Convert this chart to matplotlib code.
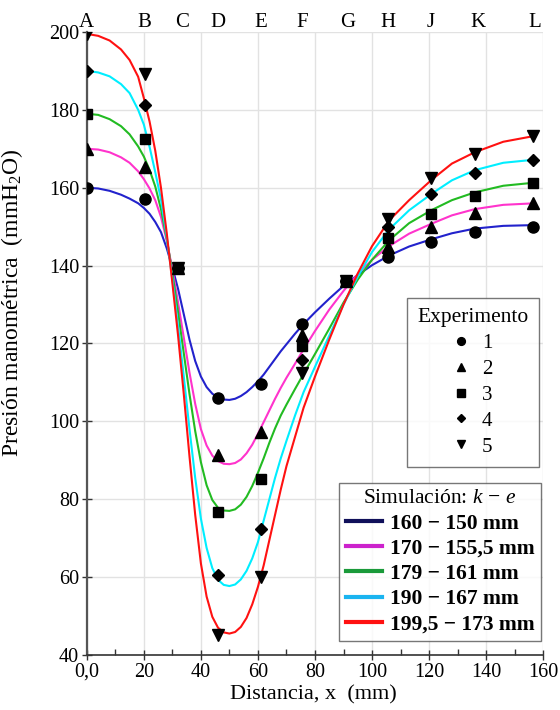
import matplotlib
matplotlib.use("Agg")
import matplotlib.pyplot as plt
from matplotlib.lines import Line2D
from matplotlib.ticker import MultipleLocator

plt.rcParams['font.family'] = ['Liberation Serif', 'DejaVu Serif']
plt.rcParams['mathtext.fontset'] = 'custom'
plt.rcParams['mathtext.rm'] = 'Liberation Serif'
plt.rcParams['mathtext.it'] = 'Liberation Serif:italic'
plt.rcParams['mathtext.bf'] = 'Liberation Serif:bold'

# ---- experimental data ----
x_points = [0, 20.5, 32, 46, 61, 75.5, 91, 105.5, 120.5, 136, 156.5]
station_letters = ['A', 'B', 'C', 'D', 'E', 'F', 'G', 'H', 'J', 'K', 'L']
station_x = [0, 20, 33.5, 46, 61, 75.5, 91.5, 105.5, 120.5, 137, 157]

exp1 = [160, 157, 139.5, 106, 109.5, 125, 136, 142.3, 146, 148.5, 150]
exp2 = [170, 165.3, 139.5, 91.3, 97.3, 122.3, 136, 144.9, 149.8, 153.4, 156]
exp3 = [179, 172.4, 139.5, 76.8, 85.2, 119.4, 136, 147, 153.2, 157.9, 161.3]
exp4 = [190, 181.2, 139.5, 60.6, 72.3, 115.8, 136, 150, 158.4, 163.9, 167.1]
exp5 = [199.5, 189.3, 139.5, 45.1, 60.1, 112.4, 136, 152, 162.4, 168.7, 173.3]
exp_labels = ['1', '2', '3', '4', '5']

# ---- simulated curves ----
sim_x = [0, 4, 8, 12, 15, 18, 20, 22, 24, 26, 28, 30, 32, 34, 36, 38, 40, 42, 44, 46, 48, 50,
         52, 54, 56, 58, 60, 62, 64, 66, 68, 70, 73, 76, 80, 85, 90, 95, 100, 106, 113, 121,
         128, 136, 146, 157]
sim1 = [160, 159.8, 159.2, 158.2, 157.2, 156, 154.8, 153.3, 151.2, 148.6, 144.5, 139.5, 134,
        127.5, 121, 115.5, 111.5, 108.8, 107.1, 106.1, 105.6, 105.5,
        105.8, 106.5, 107.5, 108.8, 110.3, 112, 114, 116, 118, 119.8, 122.5, 125, 128, 131.5,
        134.8, 137.6, 140.1, 142.6, 144.9, 146.8, 148.3, 149.5, 150.2, 150.4]
sim2 = [170, 169.8, 169.1, 167.8, 166.4, 164.2, 162.2, 159.8, 156.8, 152.5, 146.5, 139, 130.5,
        121.5, 112.5, 104.5, 98, 93.8, 91.2, 89.8, 89.1, 89,
        89.3, 90.2, 91.8, 94, 96.8, 99.8, 102.8, 105.8, 108.6, 111.2, 114.8, 118.5, 123.2, 128.7,
        133.5, 137.8, 141.5, 145, 148.2, 150.8, 152.9, 154.5, 155.6, 156]
sim3 = [179, 178.7, 177.6, 175.8, 173.7, 170.6, 168, 164.6, 160.3, 154.5, 147, 138, 128,
        117.5, 107, 97.5, 89.5, 83.6, 79.8, 77.8, 77.1, 77,
        77.4, 78.6, 80.6, 83.4, 86.8, 90.5, 94.5, 98.2, 101.5, 104.3, 108.3, 112.2, 117.3, 123.8,
        130.5, 136.4, 141.5, 146.5, 150.9, 154.3, 156.8, 158.8, 160.5, 161.3]
sim4 = [190, 189.6, 188.6, 186.6, 184.3, 180, 176.2, 170.5, 164, 157, 147.5, 136.5, 124.5,
        111.5, 98, 85.5, 75, 67.5, 62.3, 59.3, 58, 57.7,
        58.1, 59.4, 61.6, 64.8, 69, 74.5, 80, 85.5, 90.5, 95, 101.5, 107.5, 114, 122,
        130, 137.2, 143.5, 149.3, 154.2, 158.5, 161.9, 164.5, 166.4, 167.2]
sim5 = [199.5, 199, 197.8, 195.5, 192.8, 188.5, 183, 177, 169.5, 160, 148.5, 135.5, 122,
        107, 91, 76, 63.5, 55, 49.8, 47, 45.8, 45.5,
        45.9, 47.2, 49.5, 53, 57.5, 63, 69.5, 76, 82.5, 88.5, 96, 103.5, 111.5, 121,
        130, 138, 145, 151.6, 156.8, 162.1, 166.2, 169.1, 171.8, 173.3]
sim_labels = ['160 − 150 mm', '170 − 155,5 mm', '179 − 161 mm', '190 − 167 mm', '199,5 − 173 mm']

# ---- styles ----
curve_colors = ['#2222cc', '#ff33cc', '#22bb22', '#00eeff', '#ff1111']
legend_colors = ['#10105a', '#cc22cc', '#1a9a3a', '#1ab4f0', '#ff1111']
markers = ['o', '^', 's', 'D', 'v']
msizes = [8, 8, 7.5, 6.5, 8]

fig = plt.figure(figsize=(5.6, 7.1), dpi=100)
ax = fig.add_axes([0.155, 0.0775, 0.815, 0.8775])

sims = [sim1, sim2, sim3, sim4, sim5]
for s, c in zip(sims, curve_colors):
    ax.plot(sim_x, s, color=c, lw=1.5, zorder=3)

exps = [exp1, exp2, exp3, exp4, exp5]
for e, m, ms in zip(exps, markers, msizes):
    ax.plot(x_points, e, linestyle='none', marker=m, markersize=ms, color='black', zorder=4)

ax.set_xlim(0, 160)
ax.set_ylim(40, 200)
ax.xaxis.set_major_locator(MultipleLocator(20))
ax.xaxis.set_minor_locator(MultipleLocator(10))
ax.yaxis.set_major_locator(MultipleLocator(20))
ax.yaxis.set_minor_locator(MultipleLocator(10))
ax.set_xticklabels(['0,0' if t == 0 else f'{int(t)}' for t in ax.get_xticks()])
ax.grid(True, which='major', color='#e2e2e2', lw=1.0, zorder=0)
ax.tick_params(axis='both', which='major', labelsize=14.5, direction='inout', length=7, width=1, color='#333333')
ax.tick_params(axis='x', which='major', pad=2)
ax.tick_params(axis='y', which='major', pad=2)
ax.tick_params(axis='both', which='minor', direction='in', length=4, width=1, color='#333333')
ax.tick_params(axis='y', which='minor', length=0)
for side in ['top', 'right']:
    ax.spines[side].set_visible(False)
ax.spines['left'].set_color('#555555')
ax.spines['left'].set_linewidth(1.6)
ax.spines['bottom'].set_color('#333333')
ax.spines['bottom'].set_linewidth(1.2)
ax.set_xlabel('Distancia, x  (mm)', fontsize=16)
ax.xaxis.set_label_coords(0.497, -0.048)
ax.set_ylabel('Presión manométrica  (mmH$_2$O)', fontsize=17)
ax.yaxis.set_label_coords(-0.135, 0.565)

top = ax.secondary_xaxis('top')
top.set_xticks(station_x)
top.set_xticklabels(station_letters, fontsize=15)
top.tick_params(length=0, pad=0)
top.spines['top'].set_visible(False)

# legends
exp_handles = [Line2D([], [], linestyle='none', marker=m, markersize=ms * 0.7, color='black')
               for m, ms in zip(markers, msizes)]
leg1 = ax.legend(exp_handles, exp_labels, title='Experimento', loc='upper right',
                 bbox_to_anchor=(0.99, 0.573), borderaxespad=0, fontsize=15,
                 title_fontsize=15.5, frameon=True, fancybox=False, edgecolor='#555555',
                 handlelength=0.8, handletextpad=0.6, labelspacing=0.3, borderpad=0.5,
                 markerfirst=True)
leg1.get_frame().set_linewidth(1.0)
ax.add_artist(leg1)

sim_handles = [Line2D([], [], color=c, lw=3) for c in legend_colors]
leg2 = ax.legend(sim_handles, sim_labels, title='Simulación: $k\\,-\\,e$', loc='lower right',
                 bbox_to_anchor=(0.995, 0.0225), borderaxespad=0,
                 prop={'size': 15.5, 'weight': 'bold'}, title_fontsize=15.5,
                 frameon=True, fancybox=False, edgecolor='#555555',
                 handlelength=1.7, handletextpad=0.35, labelspacing=0.24, borderpad=0.3)
leg2.get_frame().set_linewidth(1.0)

fig.savefig('out.png', dpi=100)
